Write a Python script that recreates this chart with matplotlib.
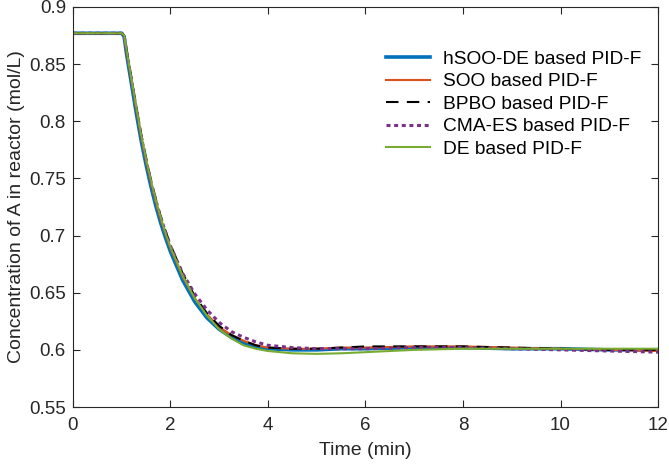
import numpy as np
import matplotlib.pyplot as plt

plt.rcParams['font.family'] = ['Liberation Sans', 'DejaVu Sans']

# time grid (min)
t = [0, 1.0, 1.05, 1.1, 1.2, 1.3, 1.4, 1.5, 1.6, 1.7, 1.8, 1.9, 2.0, 2.25, 2.5,
     2.75, 3.0, 3.25, 3.5, 3.75, 4.0, 4.5, 5.0, 5.5, 6.0, 7.0, 8.0, 9.0, 10.0, 11.0, 12.0]

hsoo_de = [0.877, 0.877, 0.874, 0.859, 0.833, 0.807, 0.783, 0.762, 0.743, 0.726, 0.711,
           0.698, 0.686, 0.661, 0.642, 0.628, 0.618, 0.611, 0.606, 0.603, 0.601, 0.600,
           0.600, 0.601, 0.601, 0.602, 0.602, 0.601, 0.601, 0.600, 0.600]
soo = [0.877, 0.877, 0.875, 0.861, 0.836, 0.810, 0.786, 0.765, 0.746, 0.729, 0.714,
       0.701, 0.689, 0.664, 0.645, 0.631, 0.620, 0.613, 0.608, 0.604, 0.602, 0.601,
       0.601, 0.602, 0.602, 0.603, 0.603, 0.602, 0.601, 0.600, 0.599]
bpbo = [0.877, 0.877, 0.875, 0.862, 0.838, 0.813, 0.789, 0.768, 0.749, 0.732, 0.717,
        0.704, 0.692, 0.667, 0.647, 0.632, 0.621, 0.613, 0.608, 0.604, 0.602, 0.601,
        0.601, 0.602, 0.603, 0.603, 0.603, 0.602, 0.601, 0.600, 0.600]
cma_es = [0.877, 0.877, 0.875, 0.861, 0.836, 0.811, 0.787, 0.766, 0.747, 0.731, 0.716,
          0.703, 0.691, 0.667, 0.649, 0.635, 0.624, 0.616, 0.611, 0.607, 0.604, 0.602,
          0.601, 0.601, 0.601, 0.602, 0.602, 0.601, 0.600, 0.599, 0.598]
de = [0.877, 0.877, 0.875, 0.862, 0.837, 0.812, 0.788, 0.767, 0.748, 0.731, 0.716,
      0.702, 0.690, 0.665, 0.645, 0.630, 0.618, 0.610, 0.604, 0.601, 0.599, 0.597,
      0.5965, 0.597, 0.598, 0.600, 0.601, 0.601, 0.601, 0.601, 0.601]

fig = plt.figure(figsize=(6.69, 4.65), dpi=100)
ax = fig.add_axes([0.109, 0.1247, 0.8746, 0.8603])

ax.plot(t, hsoo_de, color='#0072BD', lw=2.6, label='hSOO-DE based PID-F')
ax.plot(t, soo, color='#D95319', lw=1.5, label='SOO based PID-F')
ax.plot(t, bpbo, color='black', lw=1.5, ls=(0, (6, 4)), label='BPBO based PID-F')
ax.plot(t, cma_es, color='#7E2F8E', lw=2.2, ls=(0, (1.3, 1.2)), label='CMA-ES based PID-F')
ax.plot(t, de, color='#77AC30', lw=1.5, label='DE based PID-F')

ax.set_xlim(0, 12)
ax.set_ylim(0.55, 0.9)
ax.set_xticks(np.arange(0, 13, 2))
ax.set_yticks(np.arange(0.55, 0.901, 0.05))
ax.set_yticklabels(['0.55', '0.6', '0.65', '0.7', '0.75', '0.8', '0.85', '0.9'])
ax.tick_params(direction='in', length=5, labelsize=13.5, colors='#262626', top=True, right=True,
               labeltop=False, labelright=False, width=0.8, pad=5)
ax.tick_params(axis='x', pad=7)
for s in ax.spines.values():
    s.set_color('#262626')
    s.set_linewidth(0.8)

ax.set_xlabel('Time (min)', fontsize=14, color='#262626', labelpad=6)
ax.set_ylabel('Concentration of A in reactor (mol/L)', fontsize=14, color='#262626', labelpad=3)

ax.legend(loc='upper left', bbox_to_anchor=(0.505, 0.935), frameon=False, fontsize=13.8,
          handlelength=2.3, labelspacing=0.27, handletextpad=0.7)

fig.savefig('out.png', dpi=100)
